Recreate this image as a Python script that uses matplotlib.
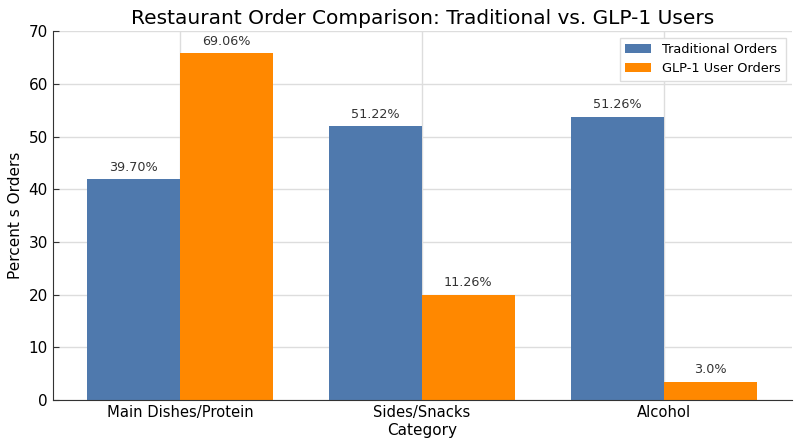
import matplotlib
matplotlib.use("Agg")
import matplotlib.pyplot as plt
import numpy as np

# data
categories = ["Main Dishes/Protein", "Sides/Snacks", "Alcohol"]
traditional = [42.0, 52.0, 53.8]
glp1 = [65.8, 20.0, 3.5]
traditional_labels = ["39.70%", "51.22%", "51.26%"]
glp1_labels = ["69.06%", "11.26%", "3.0%"]

blue = "#4f79ad"
orange = "#ff8800"
width = 0.385

fig, ax = plt.subplots(figsize=(8, 4.47), dpi=100)
x = np.arange(len(categories))

b1 = ax.bar(x - width / 2, traditional, width, color=blue, label="Traditional Orders", zorder=2)
b2 = ax.bar(x + width / 2, glp1, width, color=orange, label="GLP-1 User Orders", zorder=2)

# labels sit a bit above each bar
for bars, labels in ((b1, traditional_labels), (b2, glp1_labels)):
	for rect, lab in zip(bars, labels):
		ax.text(rect.get_x() + rect.get_width() / 2, rect.get_height() + 1.0, lab,
				ha="center", va="bottom", fontsize=9.2, color="#333333")

ax.set_title("Restaurant Order Comparison: Traditional vs. GLP-1 Users", fontsize=14.5, pad=5)
ax.set_xlabel("Category", fontsize=11, labelpad=2)
ax.set_ylabel("Percent s Orders", fontsize=11)
ax.set_xticks(x)
ax.set_xticklabels(categories, fontsize=10.6)
ax.set_ylim(0, 70)
ax.set_xlim(-0.525, 2.53)
ax.tick_params(axis="y", labelsize=11)
ax.tick_params(direction="in", length=4, color="#333333")

ax.grid(True, color="#dddddd", linewidth=1, zorder=0)
ax.set_axisbelow(True)
for side in ("top", "right"):
	ax.spines[side].set_visible(False)
for side in ("left", "bottom"):
	ax.spines[side].set_color("#333333")

ax.legend(loc="upper right", fontsize=9.3, framealpha=1, fancybox=False, edgecolor="#dddddd")

fig.subplots_adjust(left=0.066, right=0.99, top=0.93, bottom=0.105)
fig.savefig("out.png", dpi=100)
